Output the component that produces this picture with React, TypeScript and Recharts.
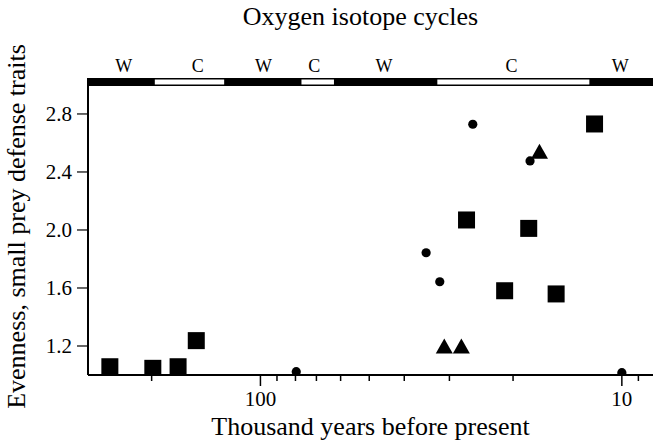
import { ReferenceArea, ReferenceLine, Scatter, ScatterChart, XAxis, YAxis } from 'recharts';

const serif = '"Liberation Serif", "Times New Roman", serif';

// thousand years before present vs evenness
const squarePoints = [
  { age: 261, evenness: 1.057 },
  { age: 198.5, evenness: 1.046 },
  { age: 169, evenness: 1.057 },
  { age: 150.5, evenness: 1.237 },
  { age: 26.9, evenness: 2.069 },
  { age: 21.1, evenness: 1.581 },
  { age: 18.1, evenness: 2.011 },
  { age: 15.2, evenness: 1.559 },
  { age: 11.9, evenness: 2.731 },
];

const circlePoints = [
  { age: 79.6, evenness: 1.023 },
  { age: 34.8, evenness: 1.843 },
  { age: 31.9, evenness: 1.643 },
  { age: 25.85, evenness: 2.729 },
  { age: 17.95, evenness: 2.476 },
  { age: 10, evenness: 1.016 },
];

const trianglePoints = [
  { age: 31, evenness: 1.2 },
  { age: 27.8, evenness: 1.2 },
  { age: 16.9, evenness: 2.543 },
];

// oxygen isotope stages (warm / cold), boundaries in ka
const stageBounds = [300, 196, 126, 77, 62.6, 32.4, 12.3, 8.2];
const stageNames = ['W', 'C', 'W', 'C', 'W', 'C', 'W'];
const stageLabelAt = [239, 149, 98, 71, 45.5, 20.2, 10.1];

const ageTicks = [200, 100, 90, 80, 70, 60, 50, 40, 30, 20, 10, 9];
const labelledAges = [100, 10];
const evennessTicks = [1.2, 1.6, 2.0, 2.4, 2.8];

const yMin = 1.0;
const yMax = 3.048;
const bandLow = 2.993;

function AgeTick(props: any) {
  const { x, y, payload } = props;
  const major = labelledAges.includes(payload.value);
  return (
    <g>
      <line x1={x} x2={x} y1={y} y2={y + (major ? 11 : 6)} stroke="#000" strokeWidth={1.5} />
      {major && (
        <text x={x} y={y + 31} textAnchor="middle" fontSize={21} fontFamily={serif} fill="#000">
          {payload.value}
        </text>
      )}
    </g>
  );
}

const square = (p: any) => <rect x={p.cx - 8.5} y={p.cy - 8.5} width={17} height={17} fill="#000" />;
const dot = (p: any) => <circle cx={p.cx} cy={p.cy} r={4.6} fill="#000" />;
const triangle = (p: any) => (
  <polygon
    points={`${p.cx - 8.5},${p.cy + 7.5} ${p.cx + 8.5},${p.cy + 7.5} ${p.cx},${p.cy - 7.5}`}
    fill="#000"
  />
);

export default function App() {
  return (
    <div style={{ position: 'absolute', left: 0, top: 0, width: 653, height: 445, background: '#fff' }}>
      <div
        style={{
          position: 'absolute',
          top: 2,
          left: 88,
          width: 565,
          textAlign: 'center',
          fontFamily: serif,
          fontSize: 26,
          color: '#000',
          transform: 'translateX(-10px)',
        }}
      >
        Oxygen isotope cycles
      </div>
      <ScatterChart width={653} height={445} margin={{ top: 78, right: 0, bottom: 10, left: 8 }}>
        <XAxis
          type="number"
          dataKey="age"
          scale="log"
          domain={[8.2, 300]}
          reversed
          allowDataOverflow
          ticks={ageTicks}
          interval={0}
          tick={<AgeTick />}
          tickLine={false}
          tickSize={0}
          tickMargin={0}
          height={60}
          axisLine={{ stroke: '#000', strokeWidth: 2 }}
          label={{
            value: 'Thousand years before present',
            position: 'insideBottom',
            offset: 0,
            fill: '#000',
            fontSize: 26,
            fontFamily: serif,
          }}
        />
        <YAxis
          type="number"
          dataKey="evenness"
          domain={[yMin, yMax]}
          allowDataOverflow
          ticks={evennessTicks}
          interval={0}
          tickFormatter={(v: number) => v.toFixed(1)}
          width={80}
          tickSize={11}
          tickMargin={5}
          tick={{ fill: '#000', fontSize: 21, fontFamily: serif }}
          tickLine={{ stroke: '#000', strokeWidth: 1.2 }}
          axisLine={{ stroke: '#000', strokeWidth: 2 }}
          label={{
            value: 'Evenness, small prey defense traits',
            angle: -90,
            position: 'insideLeft',
            offset: 8,
            fill: '#000',
            fontSize: 26,
            fontFamily: serif,
            style: { textAnchor: 'middle' },
          }}
        />

        <ReferenceArea
          x1={stageBounds[0]}
          x2={stageBounds[stageBounds.length - 1]}
          y1={bandLow}
          y2={yMax}
          fill="#000"
          fillOpacity={1}
          stroke="none"
        />
        {stageNames.map((name, i) =>
          name === 'C' ? (
            <ReferenceArea
              key={`c${i}`}
              x1={stageBounds[i]}
              x2={stageBounds[i + 1]}
              y1={3.003}
              y2={3.038}
              fill="#fff"
              fillOpacity={1}
              stroke="none"
            />
          ) : null
        )}
        {stageNames.map((name, i) => (
          <ReferenceLine
            key={`l${i}`}
            x={stageLabelAt[i]}
            stroke="none"
            label={{ value: name, position: 'top', offset: 6, fill: '#000', fontSize: 18, fontFamily: serif }}
          />
        ))}

        <Scatter data={squarePoints} shape={square} isAnimationActive={false} />
        <Scatter data={circlePoints} shape={dot} isAnimationActive={false} />
        <Scatter data={trianglePoints} shape={triangle} isAnimationActive={false} />
      </ScatterChart>
    </div>
  );
}
